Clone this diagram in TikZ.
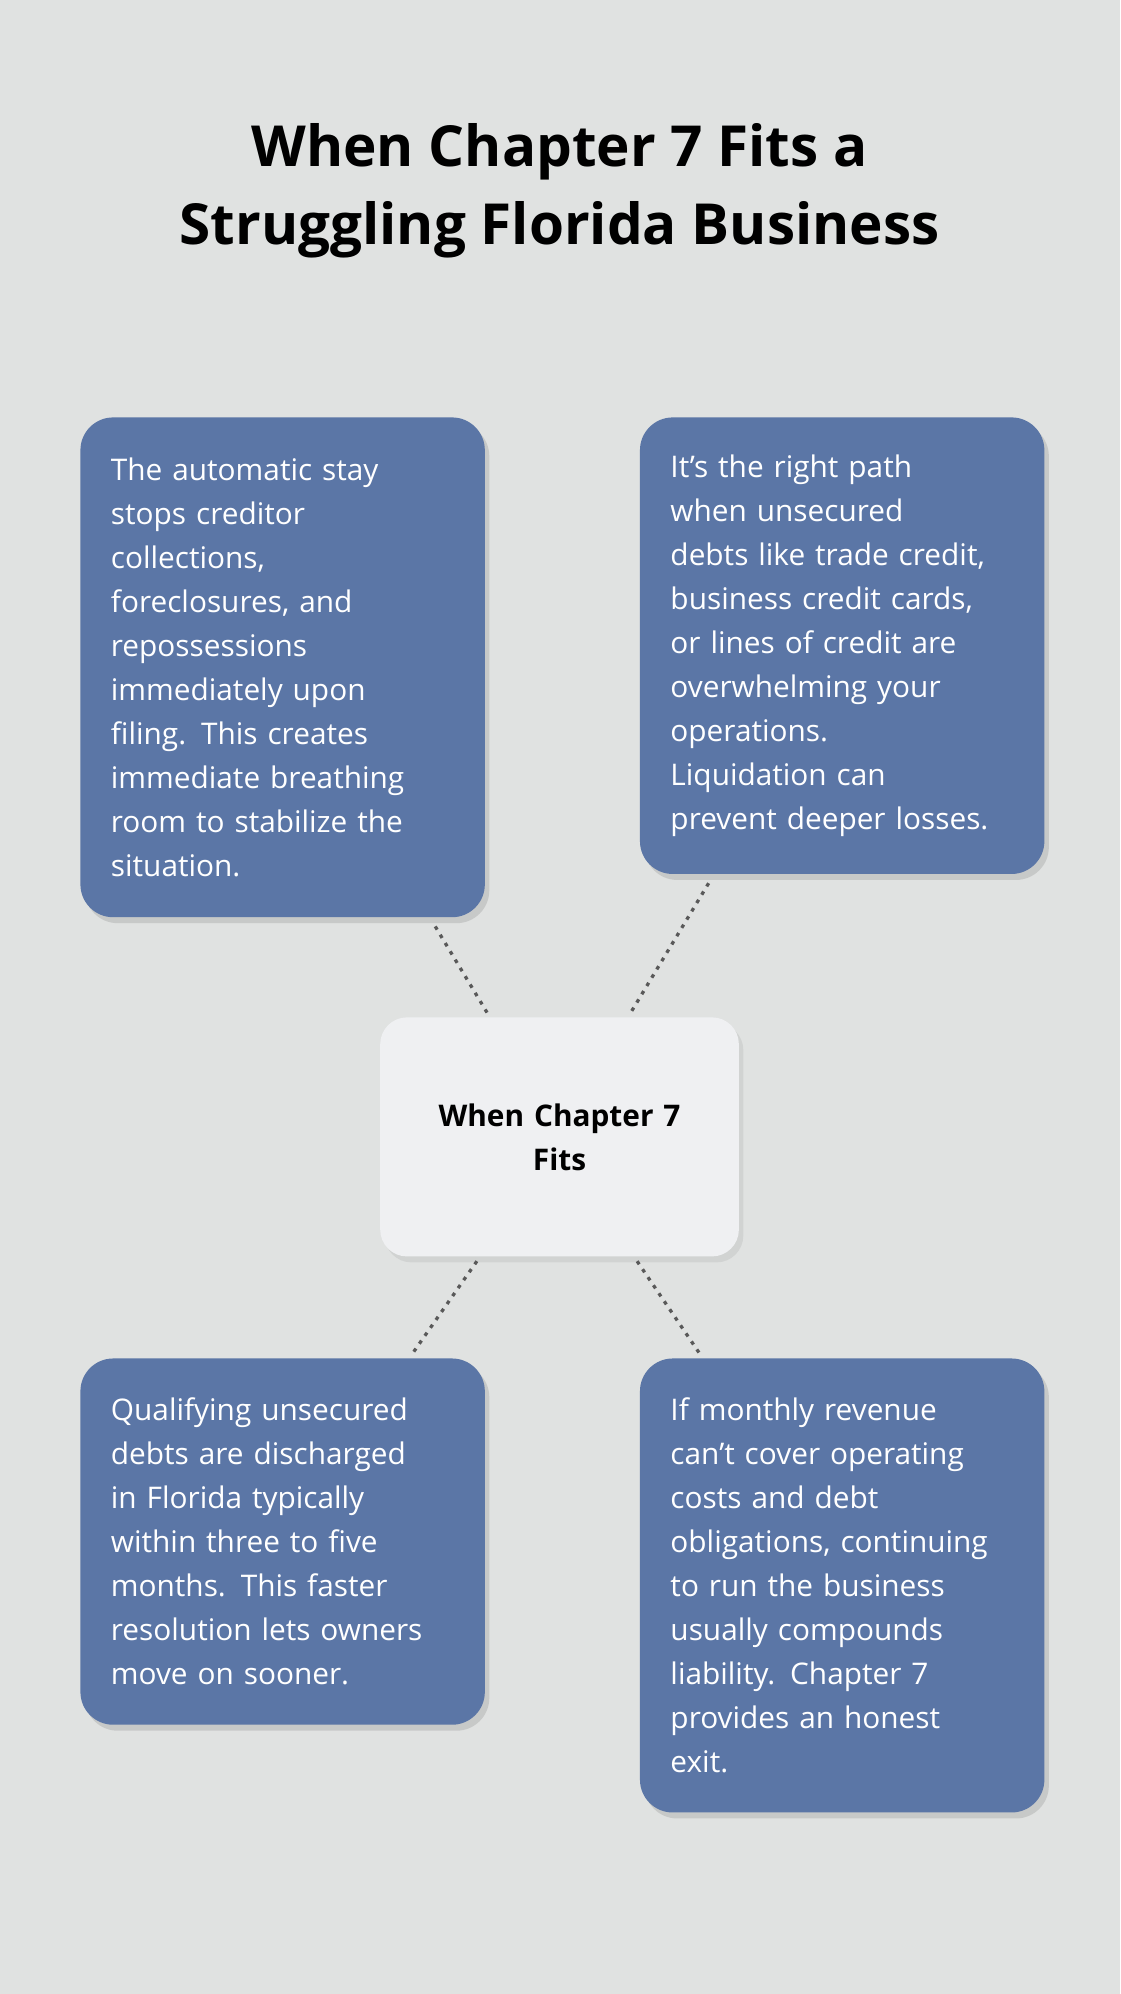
\documentclass[tikz,border=0pt]{standalone}
\usepackage{fontspec}
\setmainfont{Open Sans}
\usetikzlibrary{shadows}
\definecolor{bgc}{HTML}{E0E2E1}
\definecolor{boxc}{HTML}{5B76A6}
\definecolor{midc}{HTML}{EFF0F2}
\tikzset{
  card/.style={fill=boxc, rounded corners=22pt, text=white, anchor=north west,
    align=left, text width=8.1cm, inner xsep=0.72cm, inner ysep=0pt,
    minimum width=9.42cm, font=\fontsize{20}{29.5}\selectfont,
    drop shadow={shadow xshift=3pt, shadow yshift=-4pt, opacity=0.25}},
  hub/.style={fill=midc, rounded corners=18pt, align=center, text width=7cm,
    minimum width=8.46cm, minimum height=5.64cm, inner sep=0pt,
    font=\fontsize{20}{29.5}\selectfont\bfseries,
    drop shadow={shadow xshift=3pt, shadow yshift=-4pt, opacity=0.15}},
  link/.style={draw=black!65, line width=2.2pt, dash pattern=on 2.5pt off 4pt}
}
\begin{document}
\begin{tikzpicture}[x=0.03cm, y=-0.03cm]
  \fill[bgc] (0,0) rectangle (881,1568);
  \useasboundingbox (0,0) rectangle (881,1568);
  \node (title) [align=center, font=\fontsize{38}{52.7}\selectfont\bfseries]
    at (440,150) {When Chapter 7 Fits a\\Struggling Florida Business};

  \node (tl) [card, minimum height=11.79cm] at (63,328)
    {The automatic stay\\stops creditor\\collections,\\foreclosures, and\\repossessions\\immediately upon\\filing. This creates\\immediate breathing\\room to stabilize the\\situation.};
  \node (tr) [card, minimum height=10.77cm] at (503,328)
    {It’s the right path\\when unsecured\\debts like trade credit,\\business credit cards,\\or lines of credit are\\overwhelming your\\operations.\\Liquidation can\\prevent deeper losses.};
  \node (bl) [card, minimum height=8.64cm] at (63,1068)
    {Qualifying unsecured\\debts are discharged\\in Florida typically\\within three to five\\months. This faster\\resolution lets owners\\move on sooner.};
  \node (br) [card, minimum height=10.71cm] at (503,1068)
    {If monthly revenue\\can’t cover operating\\costs and debt\\obligations, continuing\\to run the business\\usually compounds\\liability. Chapter 7\\provides an honest\\exit.};
  \node (hub) [hub] at (440,894) {When Chapter 7\\Fits};

  % dotted links
  \draw[link] ([xshift=3.6cm, yshift=-6pt]tl.south) -- ([xshift=-1.71cm, yshift=3pt]hub.north);
  \draw[link] ([xshift=-3.15cm, yshift=-6pt]tr.south) -- ([xshift=1.68cm, yshift=3pt]hub.north);
  \draw[link] ([xshift=-1.95cm, yshift=-3pt]hub.south) -- ([xshift=3.06cm, yshift=3pt]bl.north);
  \draw[link] ([xshift=1.83cm, yshift=-3pt]hub.south) -- ([xshift=-3.36cm, yshift=3pt]br.north);
\end{tikzpicture}
\end{document}
